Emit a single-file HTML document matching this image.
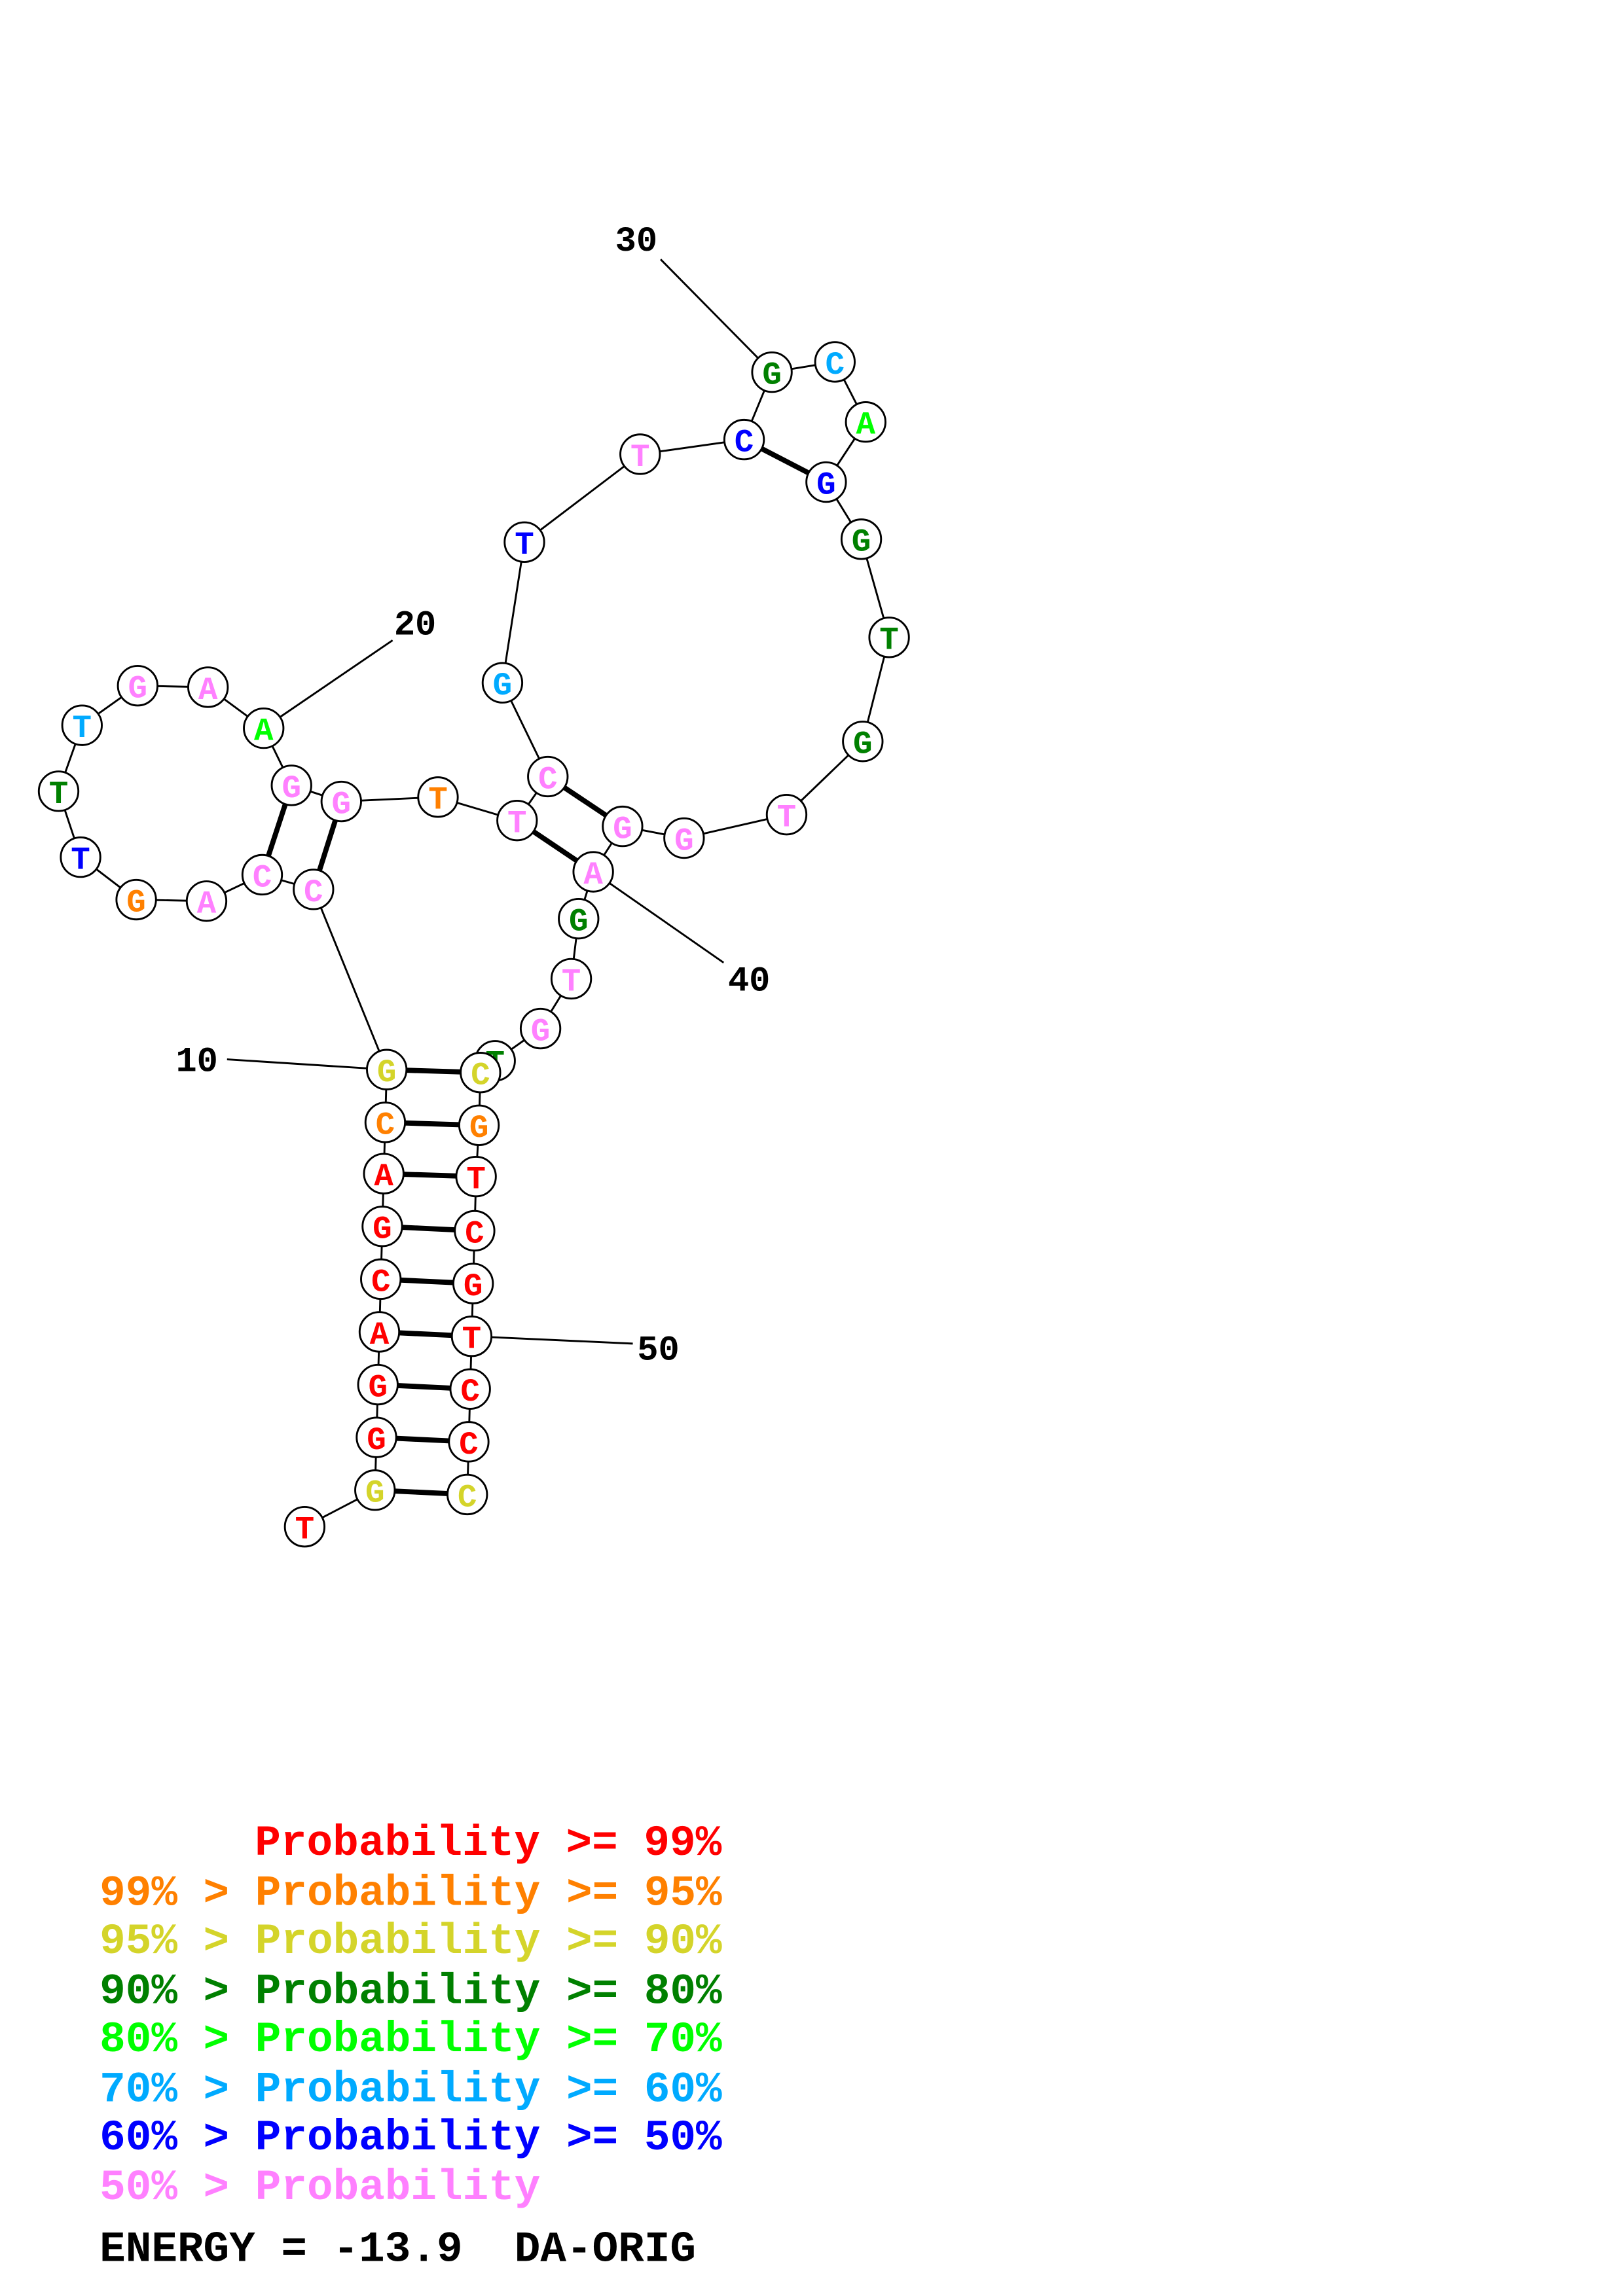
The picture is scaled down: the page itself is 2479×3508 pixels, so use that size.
<!DOCTYPE html>
<html><head><meta charset="utf-8"><style>
html,body{margin:0;padding:0;background:#fff;}
svg{display:block;}
.pre{white-space:pre;}
</style></head><body>
<svg width="2479" height="3508" viewBox="0 0 1108 1567" preserveAspectRatio="none" xmlns="http://www.w3.org/2000/svg">
<g stroke="#000" stroke-width="1.3" fill="none">
<polyline points="208,1042 256,1017 257,981 258,945 259,909 260,873 261,837 262,801 263,766 264,730 214,607 179,597 141,615 93,614 55,585 40,540 56,495 94,468 142,469 180,497 199,536 233,547 299,544 353,560 374,530 343,466 358,370 437,310 508,300 527,254 570,247 591,288 564,329 588,368 607,435 589,506 537,556 467,572 425,564 405,595 395,627 390,668 369,702 338,724 328,732 327,768 325,803 324,840 323,876 322,912 321,948 320,984 319,1020"/>
<line x1="155" y1="723" x2="264" y2="730"/>
<line x1="268" y1="437" x2="180" y2="497"/>
<line x1="451" y1="177" x2="527" y2="254"/>
<line x1="494" y1="657" x2="405" y2="595"/>
<line x1="432" y1="917" x2="322" y2="912"/>
</g>
<g stroke="#000" stroke-width="3.5">
<line x1="256" y1="1017" x2="319" y2="1020"/>
<line x1="257" y1="981" x2="320" y2="984"/>
<line x1="258" y1="945" x2="321" y2="948"/>
<line x1="259" y1="909" x2="322" y2="912"/>
<line x1="260" y1="873" x2="323" y2="876"/>
<line x1="261" y1="837" x2="324" y2="840"/>
<line x1="262" y1="801" x2="325" y2="803"/>
<line x1="263" y1="766" x2="327" y2="768"/>
<line x1="264" y1="730" x2="328" y2="732"/>
<line x1="179" y1="597" x2="199" y2="536"/>
<line x1="214" y1="607" x2="233" y2="547"/>
<line x1="353" y1="560" x2="405" y2="595"/>
<line x1="374" y1="530" x2="425" y2="564"/>
<line x1="508" y1="300" x2="564" y2="329"/>
</g>
<g stroke="#000" stroke-width="1.3" fill="#fff" font-family="'Liberation Mono',monospace" font-weight="bold" font-size="22" text-anchor="middle">
<g><circle cx="208" cy="1042" r="13.5"/><text x="208" y="1050" fill="#ff0000" stroke="none">T</text></g>
<g><circle cx="256" cy="1017" r="13.5"/><text x="256" y="1025" fill="#d4d42a" stroke="none">G</text></g>
<g><circle cx="257" cy="981" r="13.5"/><text x="257" y="989" fill="#ff0000" stroke="none">G</text></g>
<g><circle cx="258" cy="945" r="13.5"/><text x="258" y="953" fill="#ff0000" stroke="none">G</text></g>
<g><circle cx="259" cy="909" r="13.5"/><text x="259" y="917" fill="#ff0000" stroke="none">A</text></g>
<g><circle cx="260" cy="873" r="13.5"/><text x="260" y="881" fill="#ff0000" stroke="none">C</text></g>
<g><circle cx="261" cy="837" r="13.5"/><text x="261" y="845" fill="#ff0000" stroke="none">G</text></g>
<g><circle cx="262" cy="801" r="13.5"/><text x="262" y="809" fill="#ff0000" stroke="none">A</text></g>
<g><circle cx="263" cy="766" r="13.5"/><text x="263" y="774" fill="#ff8000" stroke="none">C</text></g>
<g><circle cx="264" cy="730" r="13.5"/><text x="264" y="738" fill="#d4d42a" stroke="none">G</text></g>
<g><circle cx="214" cy="607" r="13.5"/><text x="214" y="615" fill="#ff80ff" stroke="none">C</text></g>
<g><circle cx="179" cy="597" r="13.5"/><text x="179" y="605" fill="#ff80ff" stroke="none">C</text></g>
<g><circle cx="141" cy="615" r="13.5"/><text x="141" y="623" fill="#ff80ff" stroke="none">A</text></g>
<g><circle cx="93" cy="614" r="13.5"/><text x="93" y="622" fill="#ff8000" stroke="none">G</text></g>
<g><circle cx="55" cy="585" r="13.5"/><text x="55" y="593" fill="#0000ff" stroke="none">T</text></g>
<g><circle cx="40" cy="540" r="13.5"/><text x="40" y="548" fill="#008000" stroke="none">T</text></g>
<g><circle cx="56" cy="495" r="13.5"/><text x="56" y="503" fill="#00aaff" stroke="none">T</text></g>
<g><circle cx="94" cy="468" r="13.5"/><text x="94" y="476" fill="#ff80ff" stroke="none">G</text></g>
<g><circle cx="142" cy="469" r="13.5"/><text x="142" y="477" fill="#ff80ff" stroke="none">A</text></g>
<g><circle cx="180" cy="497" r="13.5"/><text x="180" y="505" fill="#00ff00" stroke="none">A</text></g>
<g><circle cx="199" cy="536" r="13.5"/><text x="199" y="544" fill="#ff80ff" stroke="none">G</text></g>
<g><circle cx="233" cy="547" r="13.5"/><text x="233" y="555" fill="#ff80ff" stroke="none">G</text></g>
<g><circle cx="299" cy="544" r="13.5"/><text x="299" y="552" fill="#ff8000" stroke="none">T</text></g>
<g><circle cx="353" cy="560" r="13.5"/><text x="353" y="568" fill="#ff80ff" stroke="none">T</text></g>
<g><circle cx="374" cy="530" r="13.5"/><text x="374" y="538" fill="#ff80ff" stroke="none">C</text></g>
<g><circle cx="343" cy="466" r="13.5"/><text x="343" y="474" fill="#00aaff" stroke="none">G</text></g>
<g><circle cx="358" cy="370" r="13.5"/><text x="358" y="378" fill="#0000ff" stroke="none">T</text></g>
<g><circle cx="437" cy="310" r="13.5"/><text x="437" y="318" fill="#ff80ff" stroke="none">T</text></g>
<g><circle cx="508" cy="300" r="13.5"/><text x="508" y="308" fill="#0000ff" stroke="none">C</text></g>
<g><circle cx="527" cy="254" r="13.5"/><text x="527" y="262" fill="#008000" stroke="none">G</text></g>
<g><circle cx="570" cy="247" r="13.5"/><text x="570" y="255" fill="#00aaff" stroke="none">C</text></g>
<g><circle cx="591" cy="288" r="13.5"/><text x="591" y="296" fill="#00ff00" stroke="none">A</text></g>
<g><circle cx="564" cy="329" r="13.5"/><text x="564" y="337" fill="#0000ff" stroke="none">G</text></g>
<g><circle cx="588" cy="368" r="13.5"/><text x="588" y="376" fill="#008000" stroke="none">G</text></g>
<g><circle cx="607" cy="435" r="13.5"/><text x="607" y="443" fill="#008000" stroke="none">T</text></g>
<g><circle cx="589" cy="506" r="13.5"/><text x="589" y="514" fill="#008000" stroke="none">G</text></g>
<g><circle cx="537" cy="556" r="13.5"/><text x="537" y="564" fill="#ff80ff" stroke="none">T</text></g>
<g><circle cx="467" cy="572" r="13.5"/><text x="467" y="580" fill="#ff80ff" stroke="none">G</text></g>
<g><circle cx="425" cy="564" r="13.5"/><text x="425" y="572" fill="#ff80ff" stroke="none">G</text></g>
<g><circle cx="405" cy="595" r="13.5"/><text x="405" y="603" fill="#ff80ff" stroke="none">A</text></g>
<g><circle cx="395" cy="627" r="13.5"/><text x="395" y="635" fill="#008000" stroke="none">G</text></g>
<g><circle cx="390" cy="668" r="13.5"/><text x="390" y="676" fill="#ff80ff" stroke="none">T</text></g>
<g><circle cx="369" cy="702" r="13.5"/><text x="369" y="710" fill="#ff80ff" stroke="none">G</text></g>
<g><circle cx="338" cy="724" r="13.5"/><text x="338" y="732" fill="#008000" stroke="none">T</text></g>
<g><circle cx="328" cy="732" r="13.5"/><text x="328" y="740" fill="#d4d42a" stroke="none">C</text></g>
<g><circle cx="327" cy="768" r="13.5"/><text x="327" y="776" fill="#ff8000" stroke="none">G</text></g>
<g><circle cx="325" cy="803" r="13.5"/><text x="325" y="811" fill="#ff0000" stroke="none">T</text></g>
<g><circle cx="324" cy="840" r="13.5"/><text x="324" y="848" fill="#ff0000" stroke="none">C</text></g>
<g><circle cx="323" cy="876" r="13.5"/><text x="323" y="884" fill="#ff0000" stroke="none">G</text></g>
<g><circle cx="322" cy="912" r="13.5"/><text x="322" y="920" fill="#ff0000" stroke="none">T</text></g>
<g><circle cx="321" cy="948" r="13.5"/><text x="321" y="956" fill="#ff0000" stroke="none">C</text></g>
<g><circle cx="320" cy="984" r="13.5"/><text x="320" y="992" fill="#ff0000" stroke="none">C</text></g>
<g><circle cx="319" cy="1020" r="13.5"/><text x="319" y="1028" fill="#d4d42a" stroke="none">C</text></g>
</g>
<g font-family="'Liberation Mono',monospace" font-weight="bold" font-size="24" fill="#000">
<text x="120" y="731">10</text>
<text x="269" y="433">20</text>
<text x="420" y="171">30</text>
<text x="497" y="676">40</text>
<text x="435" y="928">50</text>
</g>
<g font-family="'Liberation Mono',monospace" font-weight="bold" font-size="29.5">
<text x="174" y="1266" fill="#ff0000">Probability &gt;= 99%</text>
<text class="pre" x="68" y="1300" fill="#ff8000">99% &gt; Probability &gt;= 95%</text>
<text class="pre" x="68" y="1333" fill="#d4d42a">95% &gt; Probability &gt;= 90%</text>
<text class="pre" x="68" y="1367" fill="#008000">90% &gt; Probability &gt;= 80%</text>
<text class="pre" x="68" y="1400" fill="#00ff00">80% &gt; Probability &gt;= 70%</text>
<text class="pre" x="68" y="1434" fill="#00aaff">70% &gt; Probability &gt;= 60%</text>
<text class="pre" x="68" y="1467" fill="#0000ff">60% &gt; Probability &gt;= 50%</text>
<text class="pre" x="68" y="1501" fill="#ff80ff">50% &gt; Probability</text>
<text class="pre" x="68" y="1543" fill="#000">ENERGY = -13.9  DA-ORIG</text>
</g>
</svg>
</body></html>
